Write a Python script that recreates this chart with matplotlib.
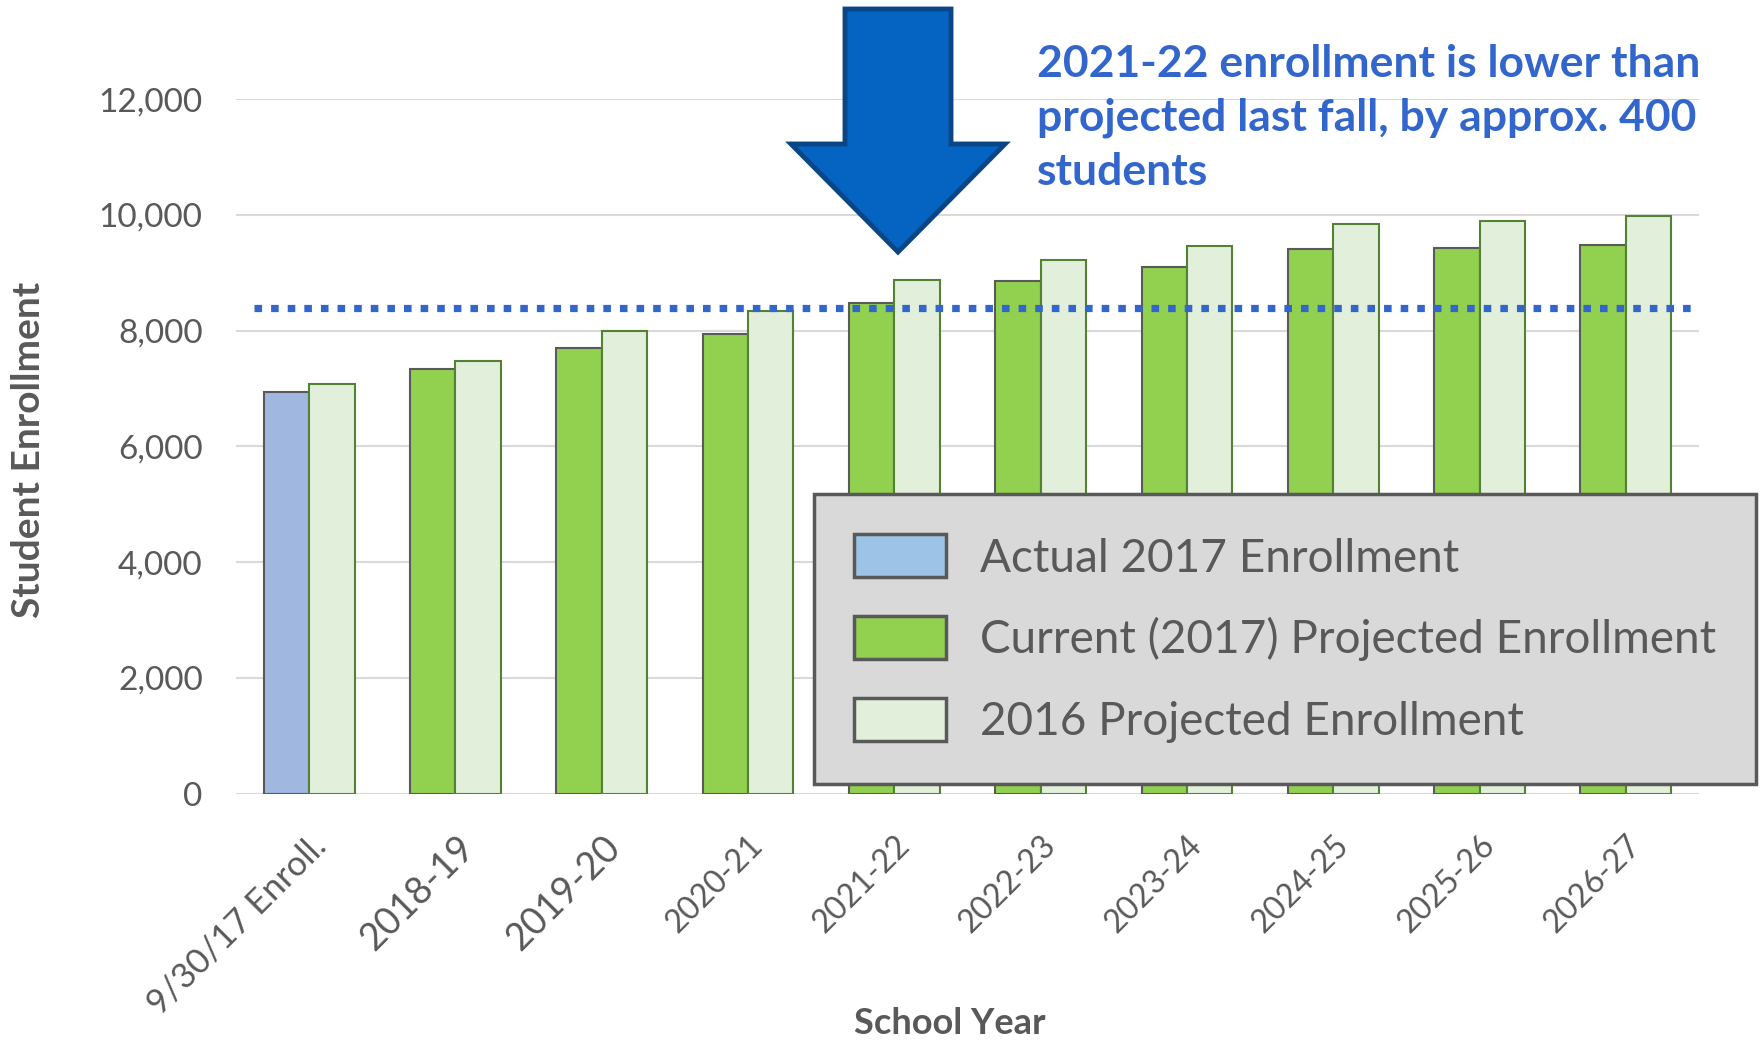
import matplotlib
matplotlib.use("Agg")
from matplotlib import pyplot as plt
from matplotlib.patches import Polygon, Patch
from matplotlib.ticker import FuncFormatter
import numpy as np

plt.rcParams['font.family'] = ['Lato', 'DejaVu Sans']

# data
categories = ['9/30/17 Enroll.', '2018-19', '2019-20', '2020-21', '2021-22',
              '2022-23', '2023-24', '2024-25', '2025-26', '2026-27']
actual_2017 = [6935]
current_proj = [7345, 7700, 7945, 8480, 8855, 9095, 9405, 9425, 9480]
proj_2016 = [7085, 7480, 8000, 8345, 8880, 9230, 9465, 9850, 9895, 9990]
projected_2021_22 = 8400
legend_labels = ['Actual 2017 Enrollment', 'Current (2017) Projected Enrollment',
                 '2016 Projected Enrollment']

W, H = 1762, 1040
gray = '#595959'

fig = plt.figure(figsize=(W / 100, H / 100), dpi=100)
# plot area in pixel units of the reference
ax = fig.add_axes([236 / W, 1 - 793.5 / H, (1699 - 236) / W, (793.5 - 99.3) / H])

x = np.arange(len(categories))
bw = 0.31
ax.bar(x[:1] - bw / 2, actual_2017, bw, color='#A0B7E0', edgecolor=gray, lw=1.5, zorder=2)
ax.bar(x[1:] - bw / 2, current_proj, bw, color='#92D050', edgecolor='#5A5A5A', lw=1.5, zorder=2)
ax.bar(x + bw / 2, proj_2016, bw, color='#E2EFDA', edgecolor='#548235', lw=1.5, zorder=2)

# dotted line: what 2021-22 was projected at last fall
ax.plot([-0.38, 9.5], [projected_2021_22] * 2, color='#3366CC', lw=5.2,
        dashes=(1.05, 1.25), dash_capstyle='butt', zorder=3)

ax.set_xlim(-0.5, 9.5)
ax.set_ylim(0, 12000)
ax.set_yticks(range(0, 12001, 2000))
ax.yaxis.set_major_formatter(FuncFormatter(lambda v, p: f'{int(v):,}'))
ax.yaxis.grid(True, color='#D9D9D9', lw=1.5)
ax.set_axisbelow(True)
for s in ax.spines.values():
    s.set_visible(False)
ax.tick_params(axis='y', length=0, pad=24, labelsize=24, labelcolor=gray)
ax.tick_params(axis='x', length=0, pad=26, labelcolor=gray)
ax.set_xticks(x)
ax.set_xticklabels(categories, rotation=45, ha='right', va='top', rotation_mode='anchor')
for i, t in enumerate(ax.get_xticklabels()):
    t.set_fontsize(27 if i in (1, 2) else (25 if i == 0 else 23))

ax.set_ylabel('Student Enrollment', fontsize=28, fontweight='bold', color=gray, va='center')
ax.yaxis.set_label_coords(-0.142, 0.495)
ax.set_xlabel('School Year', fontsize=26, fontweight='bold', color=gray, va='center')
ax.xaxis.set_label_coords(0.488, -0.331)

handles = [Patch(facecolor='#9DC3E6', edgecolor=gray, lw=2.5),
           Patch(facecolor='#92D050', edgecolor=gray, lw=2.5),
           Patch(facecolor='#E2EFDA', edgecolor=gray, lw=2.5)]
leg = ax.legend(handles, legend_labels, loc='upper left',
                bbox_to_anchor=(814 / W, 1 - 494 / H), bbox_transform=fig.transFigure,
                borderaxespad=0, fontsize=33, handlelength=2.0, handleheight=1.07,
                handletextpad=0.74, labelspacing=0.8, borderpad=0.88,
                fancybox=False, framealpha=1, labelcolor=gray)
leg.get_frame().set_facecolor('#D9D9D9')
leg.get_frame().set_edgecolor(gray)
leg.get_frame().set_linewidth(2.5)
leg.set_zorder(5)

# big down arrow over 2021-22
pts = [(845, 9), (951, 9), (951, 144), (1005, 144), (898, 252), (791, 144), (845, 144)]
arrow = Polygon([(px / W, 1 - py / H) for px, py in pts], closed=True,
                facecolor='#0563C1', edgecolor='#0A4585', lw=3.5, joinstyle='miter',
                transform=fig.transFigure)
fig.add_artist(arrow)

fig.text(1037 / W, 1 - 44 / H,
         '2021-22 enrollment is lower than\nprojected last fall, by approx. 400\nstudents',
         fontsize=32, fontweight='bold', color='#3366CC', va='top', ha='left',
         linespacing=1.42)

plt.savefig('out.png', dpi=100)
